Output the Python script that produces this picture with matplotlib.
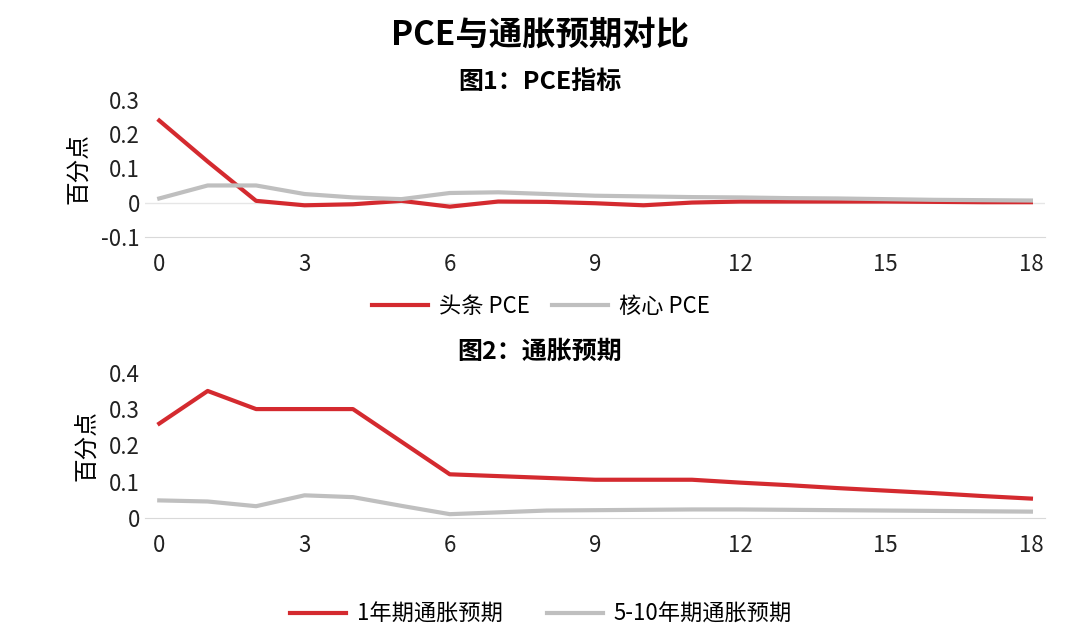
import matplotlib
matplotlib.use("Agg")
import matplotlib.pyplot as plt

plt.rcParams['font.family'] = ['Noto Sans CJK SC', 'DejaVu Sans']

x = list(range(19))
headline = [0.24, 0.12, 0.005, -0.008, -0.005, 0.005, -0.012, 0.003, 0.002, -0.002, -0.008, 0.0, 0.003, 0.003, 0.003, 0.003, 0.002, 0.001, 0.001]
core = [0.012, 0.05, 0.05, 0.025, 0.015, 0.01, 0.028, 0.03, 0.025, 0.02, 0.018, 0.016, 0.015, 0.013, 0.012, 0.01, 0.008, 0.007, 0.006]
exp1 = [0.26, 0.35, 0.30, 0.30, 0.30, 0.21, 0.12, 0.115, 0.11, 0.105, 0.105, 0.105, 0.097, 0.09, 0.082, 0.075, 0.068, 0.06, 0.053]
exp510 = [0.048, 0.045, 0.032, 0.062, 0.057, 0.033, 0.01, 0.015, 0.02, 0.021, 0.022, 0.023, 0.023, 0.022, 0.021, 0.02, 0.019, 0.018, 0.017]
xticks = [0, 3, 6, 9, 12, 15, 18]

RED = '#d42a2f'
GRAY = '#bfbfbf'

fig = plt.figure(figsize=(10.8, 6.33), dpi=100)
fig.text(0.5, 1 - 35/633, 'PCE与通胀预期对比', ha='center', va='center', fontsize=24, fontweight='bold')
fig.text(0.5, 1 - 82/633, '图1：PCE指标', ha='center', va='center', fontsize=18, fontweight='bold')
fig.text(0.5, 1 - 352/633, '图2：通胀预期', ha='center', va='center', fontsize=18, fontweight='bold')

def setup(ax, yt, ylab):
    for s in ['top', 'right', 'left']:
        ax.spines[s].set_visible(False)
    ax.spines['bottom'].set_color('#d9d9d9')
    ax.set_xlim(-0.3, 18.3)
    ax.set_xticks(xticks)
    ax.set_yticks(yt)
    ax.tick_params(length=0, labelsize=16, colors='#222222')
    ax.tick_params(axis='x', pad=12)
    ax.set_ylabel(ylab, fontsize=17, labelpad=8)

ax1 = fig.add_axes([0.134, 0.626, 0.834, 0.216])
ax1.plot(x, headline, color=RED, lw=3, label='头条 PCE')
ax1.plot(x, core, color=GRAY, lw=3, label='核心 PCE')
ax1.set_ylim(-0.1, 0.3)
ax1.axhline(0, color='#e6e6e6', lw=1, zorder=0)
setup(ax1, [-0.1, 0, 0.1, 0.2, 0.3], '百分点')
ax1.set_yticklabels(['-0.1', '0', '0.1', '0.2', '0.3'])
ax1.legend(loc='upper center', bbox_to_anchor=(0.44, -0.28), ncol=2, frameon=False, fontsize=16, handlelength=2.5, columnspacing=1.0, handletextpad=0.5)

ax2 = fig.add_axes([0.134, 0.182, 0.834, 0.229])
ax2.plot(x, exp1, color=RED, lw=3, label='1年期通胀预期')
ax2.plot(x, exp510, color=GRAY, lw=3, label='5-10年期通胀预期')
ax2.set_ylim(0, 0.4)
setup(ax2, [0, 0.1, 0.2, 0.3, 0.4], '百分点')
ax2.set_yticklabels(['0', '0.1', '0.2', '0.3', '0.4'])
ax2.legend(loc='upper center', bbox_to_anchor=(0.44, -0.45), ncol=2, frameon=False, fontsize=16, handlelength=2.5, columnspacing=2.0, handletextpad=0.5)

fig.savefig('out.png', dpi=100)
